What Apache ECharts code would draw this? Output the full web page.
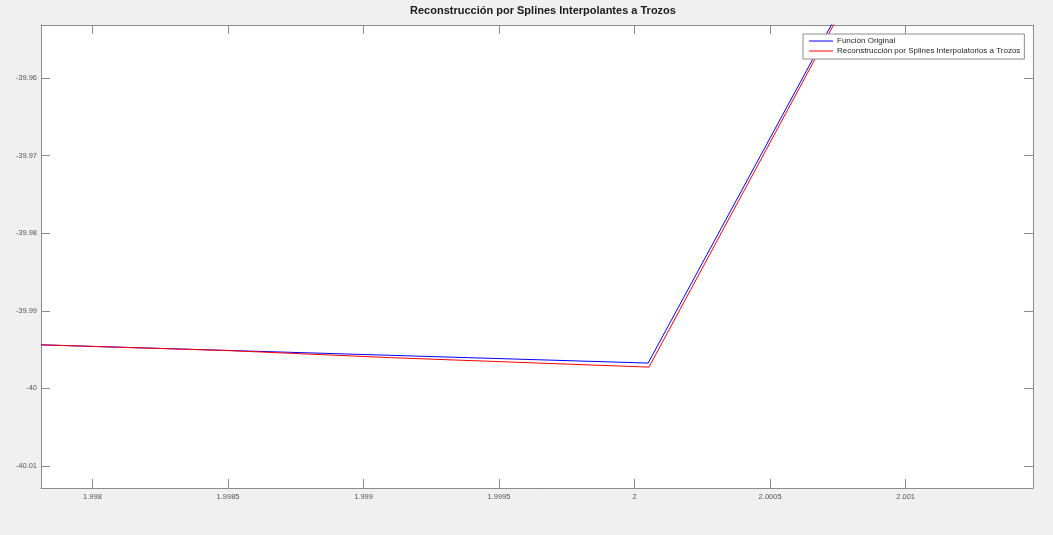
<!DOCTYPE html>
<html>
<head>
<meta charset="utf-8">
<title>Reconstrucción por Splines Interpolantes a Trozos</title>
<script src="https://cdn.jsdelivr.net/npm/echarts@6/dist/echarts.min.js"></script>
<style>
  html, body { margin: 0; padding: 0; background: #f0f0f0; }
  #chart { width: 1053px; height: 535px; }
</style>
</head>
<body>
<div id="chart"></div>
<script>
// Original function samples (x, f(x))
const originalX = [1.99781, 2.00005, 2.0008];
const originalY = [-39.99439, -39.99674, -39.94839];

// Piecewise interpolating spline reconstruction
const splineX = [1.99781, 1.9985, 1.9991, 2.000053, 2.0008];
const splineY = [-39.99439, -39.99513, -39.99604, -39.99726, -39.94888];

// Visible window
const xRange = [1.99781, 2.00147];
const yRange = [-40.01284, -39.95317];

const titleText = 'Reconstrucción por Splines Interpolantes a Trozos';
const seriesNames = ['Función Original', 'Reconstrucción por Splines Interpolatorios a Trozos'];

const pairs = (xs, ys) => xs.map((x, i) => [x, ys[i]]);

const axisGray = '#8c8c8c';
const labelColor = '#555555';
const font = 'Liberation Sans, Arial, sans-serif';

function xAxisDef(pos, showLabels) {
  return {
    type: 'value', position: pos, min: xRange[0], max: xRange[1], splitNumber: 7,
    axisLine: { show: true, onZero: false, lineStyle: { color: axisGray, width: 1 } },
    axisTick: { show: true, inside: true, length: 9, lineStyle: { color: axisGray } },
    axisLabel: { show: showLabels, showMinLabel: false, showMaxLabel: false, margin: 5,
                 color: labelColor, fontSize: 7.5, fontFamily: font },
    splitLine: { show: false }
  };
}
function yAxisDef(pos, showLabels) {
  return {
    type: 'value', position: pos, min: yRange[0], max: yRange[1], splitNumber: 6,
    axisLine: { show: true, onZero: false, lineStyle: { color: axisGray, width: 1 } },
    axisTick: { show: true, inside: true, length: 9, lineStyle: { color: axisGray } },
    axisLabel: { show: showLabels, showMinLabel: false, showMaxLabel: false, margin: 4,
                 color: labelColor, fontSize: 7.5, fontFamily: font },
    splitLine: { show: false }
  };
}

const chart = echarts.init(document.getElementById('chart'), null, { renderer: 'canvas' });
chart.setOption({
  animation: false,
  backgroundColor: '#f0f0f0',
  title: {
    text: titleText, left: 538, top: 0, textAlign: 'center',
    textStyle: { fontSize: 11, fontWeight: 'bold', color: '#1a1a1a', fontFamily: font }
  },
  grid: { left: 41, right: 20, top: 25, bottom: 47, show: true, backgroundColor: '#ffffff', borderWidth: 0 },
  legend: {
    orient: 'vertical', left: 803, top: 34,
    data: seriesNames.map(n => ({ name: n, icon: 'rect' })),
    itemWidth: 24, itemHeight: 1, itemGap: 0,
    padding: [2, 4, 3, 6],
    backgroundColor: '#ffffff', borderColor: '#8c8c8c', borderWidth: 1, borderRadius: 0,
    textStyle: { fontSize: 8, lineHeight: 10, color: '#262626', fontFamily: font, padding: [0, 0, 0, -1] }
  },
  xAxis: [xAxisDef('bottom', true), xAxisDef('top', false)],
  yAxis: [yAxisDef('left', true), yAxisDef('right', false)],
  series: [
    {
      name: seriesNames[0], type: 'line', xAxisIndex: 0, yAxisIndex: 0,
      data: pairs(originalX, originalY), symbol: 'none', showSymbol: false, clip: true,
      lineStyle: { color: '#0000ff', width: 1 }, itemStyle: { color: '#0000ff' }
    },
    {
      name: seriesNames[1], type: 'line', xAxisIndex: 0, yAxisIndex: 0,
      data: pairs(splineX, splineY), symbol: 'none', showSymbol: false, clip: true,
      lineStyle: { color: '#ff0000', width: 1 }, itemStyle: { color: '#ff0000' }
    }
  ]
});
</script>
</body>
</html>
